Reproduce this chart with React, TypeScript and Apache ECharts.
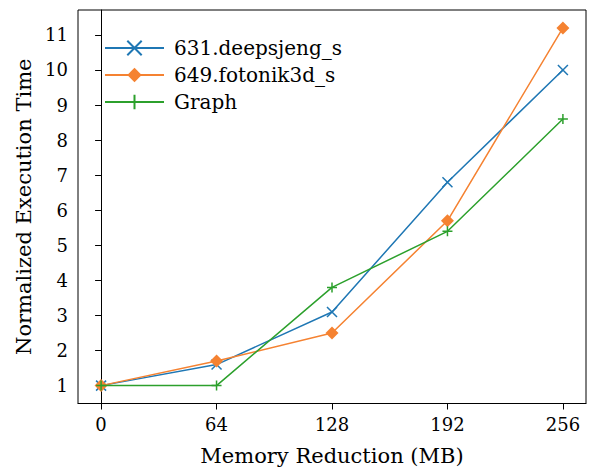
import React, { useEffect, useRef } from "react";
import * as echarts from "echarts";

const xValues = [0, 64, 128, 192, 256];
const deepsjeng = [1.0, 1.6, 3.1, 6.8, 10.0];
const fotonik = [1.0, 1.7, 2.5, 5.7, 11.2];
const graph = [1.0, 1.0, 3.8, 5.4, 8.6];
const xTicks = [0, 64, 128, 192, 256];
const yTicks = [1, 2, 3, 4, 5, 6, 7, 8, 9, 10, 11];

const FONT = "DejaVu Serif";
const X_SYMBOL = "path://M0,0L10,10M10,0L0,10";
const PLUS_SYMBOL = "path://M5,0L5,10M0,5L10,5";

export default function App() {
  const ref = useRef<HTMLDivElement>(null);
  useEffect(() => {
    if (!ref.current) return;
    const chart = echarts.init(ref.current, null, { renderer: "svg" });
    const pair = (ys: number[]) => xValues.map((x, i) => [x, ys[i]]);
    chart.setOption({
      animation: false,
      textStyle: { fontFamily: FONT },
      grid: { left: 78, right: 9, top: 10, bottom: 66, show: true, borderColor: "#000", borderWidth: 1 },
      legend: {
        orient: "vertical",
        left: 104,
        top: 38,
        padding: 0,
        itemWidth: 59,
        itemHeight: 18,
        itemGap: 7,
        textStyle: { fontFamily: FONT, fontSize: 20, lineHeight: 20, color: "#000", padding: [0, 0, 0, 5] },
        data: ["631.deepsjeng_s", "649.fotonik3d_s", "Graph"],
      },
      xAxis: {
        type: "value",
        min: -12.8,
        max: 268.8,
        name: "Memory Reduction (MB)",
        nameLocation: "middle",
        nameGap: 52,
        nameTextStyle: { fontFamily: FONT, fontSize: 21, color: "#000", verticalAlign: "middle" },
        axisLine: { show: true, lineStyle: { color: "#000", width: 1 } },
        axisTick: { show: true, inside: false, length: 6, customValues: xTicks, lineStyle: { color: "#000" } },
        axisLabel: { customValues: xTicks, fontFamily: FONT, fontSize: 18, color: "#000", margin: 12 },
        splitLine: { show: false },
      },
      yAxis: {
        type: "value",
        min: 0.49,
        max: 11.71,
        name: "Normalized Execution Time",
        nameLocation: "middle",
        nameGap: 48,
        nameTextStyle: { fontFamily: FONT, fontSize: 21, color: "#000", verticalAlign: "middle" },
        axisLine: { show: true, lineStyle: { color: "#000", width: 1 } },
        axisTick: { show: true, inside: false, length: 6, customValues: yTicks, lineStyle: { color: "#000" } },
        axisLabel: { customValues: yTicks, fontFamily: FONT, fontSize: 18, color: "#000", margin: 10 },
        splitLine: { show: false },
      },
      series: [
        {
          name: "631.deepsjeng_s",
          type: "line",
          data: pair(deepsjeng),
          symbol: X_SYMBOL,
          symbolSize: 10,
          lineStyle: { color: "#1f77b4", width: 1.5 },
          itemStyle: { color: "#1f77b4", borderColor: "#1f77b4", borderWidth: 1.5 },
          z: 3,
        },
        {
          name: "649.fotonik3d_s",
          type: "line",
          data: pair(fotonik),
          symbol: "diamond",
          symbolSize: [13, 13],
          lineStyle: { color: "#f58231", width: 1.5 },
          itemStyle: { color: "#f58231", borderWidth: 0 },
          z: 4,
        },
        {
          name: "Graph",
          type: "line",
          data: pair(graph),
          symbol: PLUS_SYMBOL,
          symbolSize: 10,
          lineStyle: { color: "#2ca02c", width: 1.5 },
          itemStyle: { color: "#2ca02c", borderColor: "#2ca02c", borderWidth: 1.5 },
          z: 5,
        },
      ],
    });
    return () => chart.dispose();
  }, []);
  return <div ref={ref} style={{ width: 595, height: 471, position: "absolute", left: 0, top: 0 }} />;
}
